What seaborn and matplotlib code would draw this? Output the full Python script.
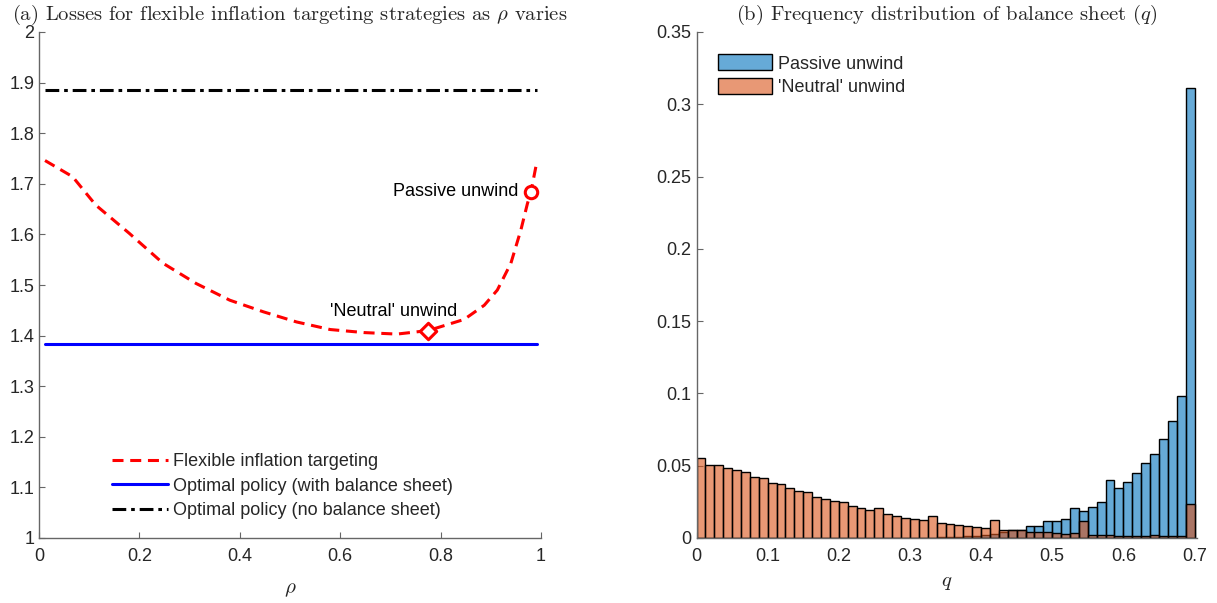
import numpy as np
import pandas as pd
import seaborn as sns
import matplotlib.pyplot as plt
from matplotlib.ticker import FuncFormatter

# ---- painel (a): perdas em funcao de rho ----
rho = [0.012, 0.067, 0.113, 0.18, 0.247, 0.313, 0.38, 0.447, 0.513, 0.58,
       0.647, 0.713, 0.7755, 0.847, 0.887, 0.913, 0.94, 0.96, 0.973, 0.98, 0.991]
loss_fit = [1.746, 1.714, 1.658, 1.602, 1.543, 1.503, 1.470, 1.447, 1.427, 1.412,
            1.406, 1.403, 1.410, 1.432, 1.460, 1.490, 1.543, 1.609, 1.661, 1.684, 1.740]
rho_range = [0.012, 0.992]
loss_opt_bs = 1.383      # optimal policy (with balance sheet)
loss_opt_nobs = 1.886    # optimal policy (no balance sheet)
rho_neutral, loss_neutral = 0.7755, 1.410
rho_passive, loss_passive = 0.98, 1.684

# ---- painel (b): distribuicao do balanco q ----
q_lo, q_hi, n_bins = 0.0, 0.7, 56
neutral_freq = [0.0556, 0.0507, 0.0507, 0.0484, 0.0473, 0.0456, 0.0424, 0.0415,
                0.0383, 0.0376, 0.0346, 0.0325, 0.0318, 0.0286, 0.0267, 0.0256,
                0.0251, 0.0221, 0.0205, 0.0196, 0.0207, 0.0168, 0.0152, 0.0138,
                0.0134, 0.0124, 0.0152, 0.0106, 0.0099, 0.0090, 0.0084, 0.0076,
                0.0069, 0.0127, 0.0058, 0.0057, 0.0058, 0.0041, 0.0039, 0.0044,
                0.0035, 0.0030, 0.0035, 0.0120, 0.0021, 0.0021, 0.0020, 0.0016,
                0.0012, 0.0012, 0.0014, 0.0018, 0.0012, 0.0014, 0.0014, 0.0237]
passive_freq = [0.0] * 27 + [0.0004, 0.0006, 0.0008, 0.0011, 0.0016, 0.0022,
                             0.0030, 0.0044, 0.0052, 0.0055, 0.0083, 0.0081,
                             0.0120, 0.0115, 0.0134, 0.0207, 0.0189, 0.0217,
                             0.0251, 0.0403, 0.0343, 0.0390, 0.0447, 0.0520,
                             0.0579, 0.0687, 0.0810, 0.0984, 0.3110]

q_edges = np.linspace(q_lo, q_hi, n_bins + 1)
q_centers = (q_edges[:-1] + q_edges[1:]) / 2
hist = pd.DataFrame({'q': q_centers, 'passive': passive_freq, 'neutral': neutral_freq})

sns.set_style("ticks")
plt.rcParams['font.family'] = ['Liberation Sans', 'DejaVu Sans']
plt.rcParams['mathtext.fontset'] = 'cm'
plt.rcParams['font.size'] = 13

fig = plt.figure(figsize=(12.17, 6.03), dpi=100)
ax1 = fig.add_axes([39 / 1217, 65 / 603, 502 / 1217, 506 / 603])
ax2 = fig.add_axes([696.5 / 1217, 65 / 603, 500.5 / 1217, 506 / 603])

eixo = '#262626'
for ax in (ax1, ax2):
    sns.despine(ax=ax)
    for s in ('left', 'bottom'):
        ax.spines[s].set_color('#666666')
        ax.spines[s].set_linewidth(1.0)
    ax.tick_params(direction='in', length=4, width=0.8, colors='#666666',
                   labelcolor=eixo, labelsize=13)
    ax.tick_params(axis='x', pad=7)
    ax.yaxis.set_major_formatter(FuncFormatter(lambda v, p: f"{v:g}"))
    ax.xaxis.set_major_formatter(FuncFormatter(lambda v, p: f"{v:g}"))

# linhas do painel (a)
sns.lineplot(x=rho, y=loss_fit, ax=ax1, color='red', lw=2.2, sort=False,
             linestyle=(0, (3.6, 2.2)), label='Flexible inflation targeting')
sns.lineplot(x=rho_range, y=[loss_opt_bs] * 2, ax=ax1, color='blue', lw=2.2,
             label='Optimal policy (with balance sheet)')
sns.lineplot(x=rho_range, y=[loss_opt_nobs] * 2, ax=ax1, color='black', lw=2.2,
             linestyle=(0, (4.5, 1.6, 1.2, 1.6)), label='Optimal policy (no balance sheet)')
sns.scatterplot(x=[rho_neutral], y=[loss_neutral], ax=ax1, marker='D', s=70,
                facecolor='white', edgecolor='red', linewidth=2.2, zorder=5)
sns.scatterplot(x=[rho_passive], y=[loss_passive], ax=ax1, marker='o', s=80,
                facecolor='white', edgecolor='red', linewidth=2.2, zorder=5)
ax1.text(rho_passive - 0.025, loss_passive, 'Passive unwind', ha='right', va='center',
         fontsize=13, color='black')
ax1.text(rho_neutral - 0.07, loss_neutral + 0.038, "'Neutral' unwind", ha='center',
         va='center', fontsize=13, color='black')

ax1.set_xlim(0, 1)
ax1.set_ylim(1, 2)
ax1.set_xticks(np.arange(0, 1.01, 0.2))
ax1.set_yticks(np.arange(1, 2.01, 0.1))
ax1.set_xlabel(r'$\rho$', fontsize=15, labelpad=11)
ax1.set_ylabel('')
ax1.set_title(r'(a) Losses for flexible inflation targeting strategies as $\rho$ varies',
              fontfamily='cmr10', fontsize=14.8, pad=9)
ax1.legend(loc='lower left', bbox_to_anchor=(0.113, 0.005), frameon=False,
           fontsize=13, handlelength=3.1, handletextpad=0.3, labelspacing=0.42)

# histogramas do painel (b)
azul = (0, 0.447, 0.741)
laranja = (0.85, 0.325, 0.098)
sns.histplot(data=hist, x='q', weights='passive', bins=q_edges.tolist(), ax=ax2,
             stat='count', color=azul, alpha=0.6, edgecolor='black', linewidth=1.0,
             label='Passive unwind')
sns.histplot(data=hist, x='q', weights='neutral', bins=q_edges.tolist(), ax=ax2,
             stat='count', color=laranja, alpha=0.6, edgecolor='black', linewidth=1.0,
             label="'Neutral' unwind")
ax2.set_xlim(0, 0.7035)
ax2.set_ylim(0, 0.35)
ax2.set_xticks(np.arange(0, 0.71, 0.1))
ax2.set_yticks(np.arange(0, 0.351, 0.05))
ax2.set_ylabel('')
ax2.set_xlabel(r'$q$', fontsize=15, labelpad=6)
ax2.set_title(r'(b) Frequency distribution of balance sheet ($q$)',
              fontfamily='cmr10', fontsize=14.8, pad=9)
ax2.legend(loc='upper left', bbox_to_anchor=(0.01, 0.988), frameon=False,
           fontsize=13, handlelength=3.0, handleheight=1.0, handletextpad=0.35,
           labelspacing=0.28)

fig.savefig('out.png', dpi=100)
